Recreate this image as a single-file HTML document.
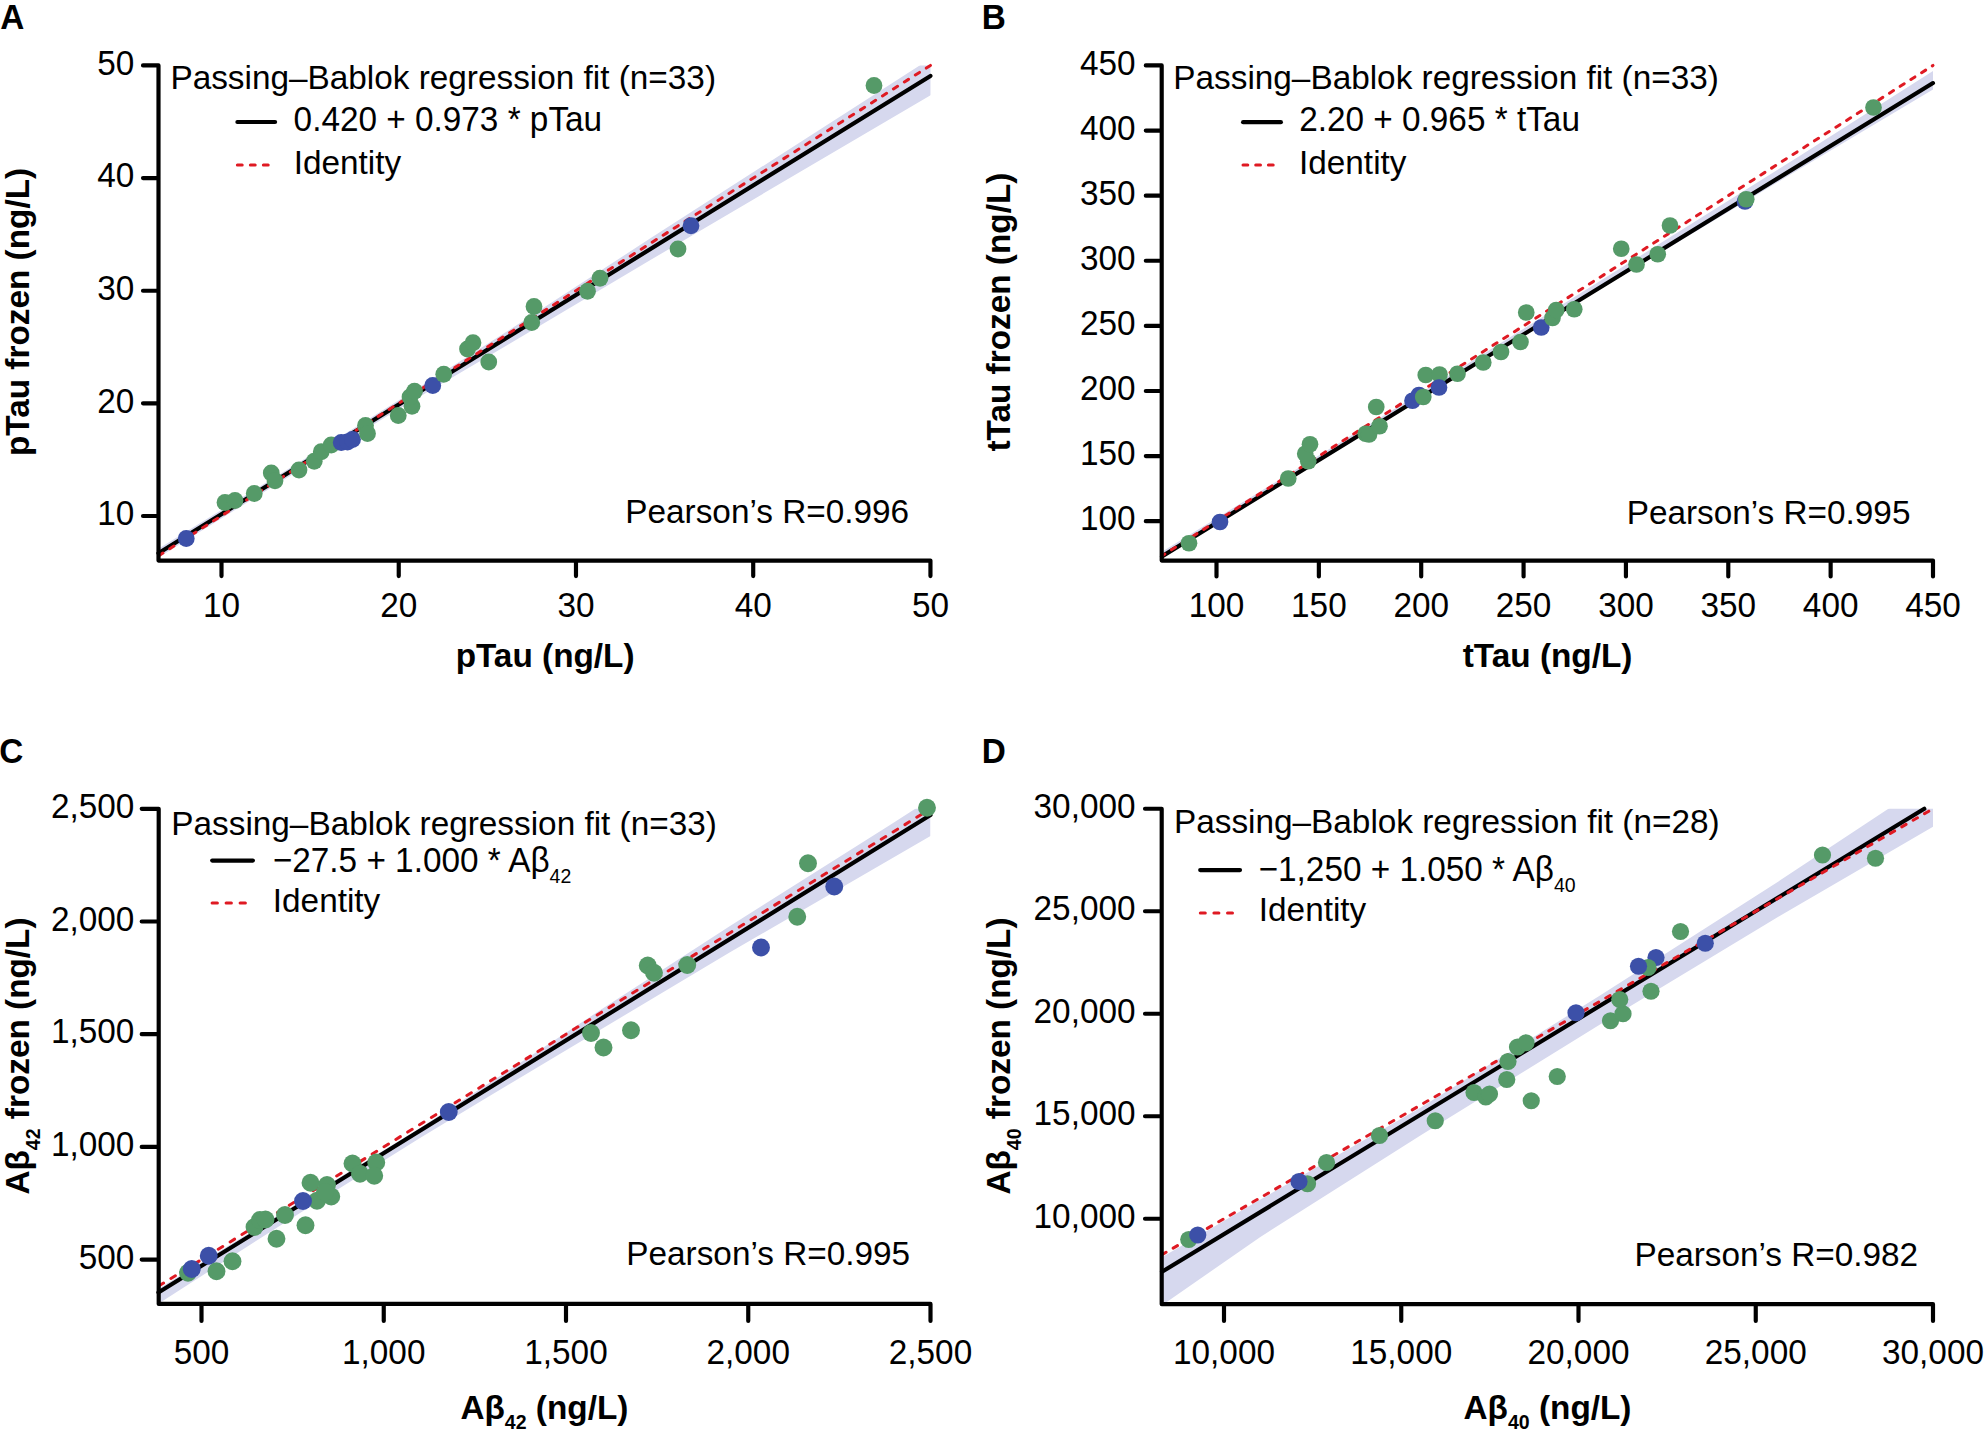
<!DOCTYPE html>
<html><head><meta charset="utf-8"><title>Passing–Bablok regression</title>
<style>html,body{margin:0;padding:0;background:#fff}svg{display:block}text{white-space:pre}</style></head>
<body>
<svg width="1984" height="1442" viewBox="0 0 1984 1442" font-family="'Liberation Sans', sans-serif" fill="#000">
<clipPath id="cA"><rect x="158.50" y="65.45" width="771.95" height="495.10"/></clipPath>
<g clip-path="url(#cA)">
<polygon fill="#d6d8ee" points="158.40,548.76 300.00,461.63 400.00,399.62 510.00,329.62 650.00,238.58 920.00,65.18 931.00,58.09 931.00,94.89 650.00,260.28 510.00,343.62 400.00,408.22 300.00,469.63 158.40,557.56"/>
</g>
<line x1="158.40" y1="553.16" x2="930.45" y2="75.93" stroke="#000" stroke-width="4.17" stroke-linecap="round"/>
<line x1="930.45" y1="65.45" x2="158.40" y2="555.93" stroke="#df1a23" stroke-width="3.0" stroke-linecap="round" stroke-dasharray="4.90 8.09" stroke-dashoffset="0.00"/>
<circle cx="186.25" cy="538.50" r="8.4" fill="#3c50a8"/>
<circle cx="225.00" cy="502.50" r="8.4" fill="#559a68"/>
<circle cx="235.00" cy="500.50" r="8.4" fill="#559a68"/>
<circle cx="254.25" cy="493.50" r="8.4" fill="#559a68"/>
<circle cx="271.25" cy="473.00" r="8.4" fill="#559a68"/>
<circle cx="275.00" cy="480.75" r="8.4" fill="#559a68"/>
<circle cx="299.00" cy="470.00" r="8.4" fill="#559a68"/>
<circle cx="314.25" cy="461.25" r="8.4" fill="#559a68"/>
<circle cx="321.25" cy="451.75" r="8.4" fill="#559a68"/>
<circle cx="331.25" cy="445.00" r="8.4" fill="#559a68"/>
<circle cx="341.25" cy="442.50" r="8.4" fill="#3c50a8"/>
<circle cx="347.50" cy="442.00" r="8.4" fill="#3c50a8"/>
<circle cx="352.50" cy="439.50" r="8.4" fill="#3c50a8"/>
<circle cx="365.50" cy="425.50" r="8.4" fill="#559a68"/>
<circle cx="367.50" cy="433.50" r="8.4" fill="#559a68"/>
<circle cx="398.25" cy="415.50" r="8.4" fill="#559a68"/>
<circle cx="412.00" cy="406.25" r="8.4" fill="#559a68"/>
<circle cx="410.00" cy="397.00" r="8.4" fill="#559a68"/>
<circle cx="414.50" cy="391.25" r="8.4" fill="#559a68"/>
<circle cx="432.75" cy="385.50" r="8.4" fill="#3c50a8"/>
<circle cx="443.75" cy="374.25" r="8.4" fill="#559a68"/>
<circle cx="488.75" cy="362.00" r="8.4" fill="#559a68"/>
<circle cx="467.50" cy="349.00" r="8.4" fill="#559a68"/>
<circle cx="473.00" cy="342.70" r="8.4" fill="#559a68"/>
<circle cx="531.75" cy="322.50" r="8.4" fill="#559a68"/>
<circle cx="534.00" cy="306.50" r="8.4" fill="#559a68"/>
<circle cx="587.50" cy="291.25" r="8.4" fill="#559a68"/>
<circle cx="600.00" cy="278.25" r="8.4" fill="#559a68"/>
<circle cx="678.00" cy="249.00" r="8.4" fill="#559a68"/>
<circle cx="691.00" cy="225.75" r="8.4" fill="#3c50a8"/>
<circle cx="874.00" cy="85.50" r="8.4" fill="#559a68"/>
<path d="M143.00 65.45H158.50V560.55H930.45V576.05M143.00 516.00H158.50M143.00 403.36H158.50M143.00 290.73H158.50M143.00 178.09H158.50M221.50 560.55V576.05M398.74 560.55V576.05M575.98 560.55V576.05M753.21 560.55V576.05" fill="none" stroke="#000" stroke-width="4.17" stroke-linecap="round" stroke-linejoin="round"/>
<text transform="translate(134.30,525.20) scale(1,1.04)" text-anchor="end" font-weight="normal" font-size="33.33">10</text>
<text transform="translate(134.30,412.56) scale(1,1.04)" text-anchor="end" font-weight="normal" font-size="33.33">20</text>
<text transform="translate(134.30,299.93) scale(1,1.04)" text-anchor="end" font-weight="normal" font-size="33.33">30</text>
<text transform="translate(134.30,187.29) scale(1,1.04)" text-anchor="end" font-weight="normal" font-size="33.33">40</text>
<text transform="translate(134.30,74.65) scale(1,1.04)" text-anchor="end" font-weight="normal" font-size="33.33">50</text>
<text transform="translate(221.50,616.80) scale(1,1.04)" text-anchor="middle" font-weight="normal" font-size="33.33">10</text>
<text transform="translate(398.74,616.80) scale(1,1.04)" text-anchor="middle" font-weight="normal" font-size="33.33">20</text>
<text transform="translate(575.98,616.80) scale(1,1.04)" text-anchor="middle" font-weight="normal" font-size="33.33">30</text>
<text transform="translate(753.21,616.80) scale(1,1.04)" text-anchor="middle" font-weight="normal" font-size="33.33">40</text>
<text transform="translate(930.45,616.80) scale(1,1.04)" text-anchor="middle" font-weight="normal" font-size="33.33">50</text>
<text transform="translate(170.40,88.50) scale(1,1.0)" text-anchor="start" font-weight="normal" font-size="33.33">Passing–Bablok regression fit (n=33)</text>
<line x1="237.40" y1="122.00" x2="275.10" y2="122.00" stroke="#000" stroke-width="4.17" stroke-linecap="round"/>
<text transform="translate(293.60,130.90) scale(1,1.04)" text-anchor="start" font-weight="normal" font-size="33.33">0.420 + 0.973 * pTau</text>
<line x1="237.35" y1="164.97" x2="268.70" y2="164.97" stroke="#df1a23" stroke-width="3.0" stroke-linecap="round" stroke-dasharray="4.85 8.15"/>
<text transform="translate(293.70,173.90) scale(1,1.0)" text-anchor="start" font-weight="normal" font-size="33.33">Identity</text>
<text transform="translate(625.30,523.00) scale(1,1.02)" text-anchor="start" font-weight="normal" font-size="33.33">Pearson’s R=0.996</text>
<text transform="translate(545.10,667.00) scale(1,1.0)" text-anchor="middle" font-weight="bold" font-size="33.33">pTau (ng/L)</text>
<text transform="translate(28.70,312.00) rotate(-90)" text-anchor="middle" font-weight="bold" font-size="33.33">pTau frozen (ng/L)</text>
<text transform="translate(0.30,28.60) scale(1,1.04)" text-anchor="start" font-weight="bold" font-size="33.33">A</text>
<clipPath id="cB"><rect x="1161.70" y="65.45" width="771.30" height="495.10"/></clipPath>
<g clip-path="url(#cB)">
<polygon fill="#d6d8ee" points="1162.00,551.65 1300.00,467.04 1450.00,374.67 1610.00,274.86 1800.00,155.63 1933.20,70.87 1933.20,89.47 1800.00,168.73 1600.00,288.99 1162.00,557.85"/>
</g>
<line x1="1162.00" y1="556.35" x2="1933.00" y2="83.09" stroke="#000" stroke-width="4.17" stroke-linecap="round"/>
<line x1="1933.00" y1="65.45" x2="1162.00" y2="555.87" stroke="#df1a23" stroke-width="3.0" stroke-linecap="round" stroke-dasharray="4.79 7.91" stroke-dashoffset="3.99"/>
<circle cx="1189.00" cy="543.25" r="8.35" fill="#559a68"/>
<circle cx="1220.00" cy="522.00" r="8.35" fill="#3c50a8"/>
<circle cx="1288.25" cy="478.50" r="8.35" fill="#559a68"/>
<circle cx="1308.25" cy="461.25" r="8.35" fill="#559a68"/>
<circle cx="1305.25" cy="453.75" r="8.35" fill="#559a68"/>
<circle cx="1310.00" cy="444.25" r="8.35" fill="#559a68"/>
<circle cx="1365.75" cy="433.75" r="8.35" fill="#559a68"/>
<circle cx="1369.00" cy="434.50" r="8.35" fill="#559a68"/>
<circle cx="1379.50" cy="426.25" r="8.35" fill="#559a68"/>
<circle cx="1376.25" cy="407.00" r="8.35" fill="#559a68"/>
<circle cx="1412.50" cy="400.75" r="8.35" fill="#3c50a8"/>
<circle cx="1419.00" cy="395.00" r="8.35" fill="#3c50a8"/>
<circle cx="1423.25" cy="397.00" r="8.35" fill="#559a68"/>
<circle cx="1425.75" cy="375.00" r="8.35" fill="#559a68"/>
<circle cx="1439.50" cy="374.50" r="8.35" fill="#559a68"/>
<circle cx="1439.00" cy="387.50" r="8.35" fill="#3c50a8"/>
<circle cx="1457.50" cy="373.75" r="8.35" fill="#559a68"/>
<circle cx="1483.25" cy="362.50" r="8.35" fill="#559a68"/>
<circle cx="1501.00" cy="352.00" r="8.35" fill="#559a68"/>
<circle cx="1520.50" cy="342.00" r="8.35" fill="#559a68"/>
<circle cx="1541.25" cy="327.50" r="8.35" fill="#3c50a8"/>
<circle cx="1552.50" cy="318.00" r="8.35" fill="#559a68"/>
<circle cx="1526.25" cy="312.50" r="8.35" fill="#559a68"/>
<circle cx="1556.25" cy="310.00" r="8.35" fill="#559a68"/>
<circle cx="1574.25" cy="309.25" r="8.35" fill="#559a68"/>
<circle cx="1636.50" cy="264.50" r="8.35" fill="#559a68"/>
<circle cx="1657.75" cy="254.25" r="8.35" fill="#559a68"/>
<circle cx="1621.25" cy="248.75" r="8.35" fill="#559a68"/>
<circle cx="1670.00" cy="225.50" r="8.35" fill="#559a68"/>
<circle cx="1745.00" cy="201.50" r="8.35" fill="#3c50a8"/>
<circle cx="1746.25" cy="199.25" r="8.35" fill="#559a68"/>
<circle cx="1873.50" cy="107.50" r="8.35" fill="#559a68"/>
<path d="M1145.80 65.45H1161.70V560.55H1933.00V576.45M1145.80 521.20H1161.70M1145.80 456.09H1161.70M1145.80 390.99H1161.70M1145.80 325.88H1161.70M1145.80 260.77H1161.70M1145.80 195.66H1161.70M1145.80 130.56H1161.70M1216.50 560.55V576.45M1318.86 560.55V576.45M1421.21 560.55V576.45M1523.57 560.55V576.45M1625.93 560.55V576.45M1728.29 560.55V576.45M1830.64 560.55V576.45" fill="none" stroke="#000" stroke-width="4.17" stroke-linecap="round" stroke-linejoin="round"/>
<text transform="translate(1135.50,530.40) scale(1,1.04)" text-anchor="end" font-weight="normal" font-size="33.33">100</text>
<text transform="translate(1135.50,465.29) scale(1,1.04)" text-anchor="end" font-weight="normal" font-size="33.33">150</text>
<text transform="translate(1135.50,400.19) scale(1,1.04)" text-anchor="end" font-weight="normal" font-size="33.33">200</text>
<text transform="translate(1135.50,335.08) scale(1,1.04)" text-anchor="end" font-weight="normal" font-size="33.33">250</text>
<text transform="translate(1135.50,269.97) scale(1,1.04)" text-anchor="end" font-weight="normal" font-size="33.33">300</text>
<text transform="translate(1135.50,204.86) scale(1,1.04)" text-anchor="end" font-weight="normal" font-size="33.33">350</text>
<text transform="translate(1135.50,139.76) scale(1,1.04)" text-anchor="end" font-weight="normal" font-size="33.33">400</text>
<text transform="translate(1135.50,74.65) scale(1,1.04)" text-anchor="end" font-weight="normal" font-size="33.33">450</text>
<text transform="translate(1216.50,616.80) scale(1,1.04)" text-anchor="middle" font-weight="normal" font-size="33.33">100</text>
<text transform="translate(1318.86,616.80) scale(1,1.04)" text-anchor="middle" font-weight="normal" font-size="33.33">150</text>
<text transform="translate(1421.21,616.80) scale(1,1.04)" text-anchor="middle" font-weight="normal" font-size="33.33">200</text>
<text transform="translate(1523.57,616.80) scale(1,1.04)" text-anchor="middle" font-weight="normal" font-size="33.33">250</text>
<text transform="translate(1625.93,616.80) scale(1,1.04)" text-anchor="middle" font-weight="normal" font-size="33.33">300</text>
<text transform="translate(1728.29,616.80) scale(1,1.04)" text-anchor="middle" font-weight="normal" font-size="33.33">350</text>
<text transform="translate(1830.64,616.80) scale(1,1.04)" text-anchor="middle" font-weight="normal" font-size="33.33">400</text>
<text transform="translate(1933.00,616.80) scale(1,1.04)" text-anchor="middle" font-weight="normal" font-size="33.33">450</text>
<text transform="translate(1173.30,88.55) scale(1,1.0)" text-anchor="start" font-weight="normal" font-size="33.33">Passing–Bablok regression fit (n=33)</text>
<line x1="1243.10" y1="122.15" x2="1280.90" y2="122.15" stroke="#000" stroke-width="4.17" stroke-linecap="round"/>
<text transform="translate(1299.20,130.80) scale(1,1.04)" text-anchor="start" font-weight="normal" font-size="33.33">2.20 + 0.965 * tTau</text>
<line x1="1243.00" y1="165.00" x2="1273.60" y2="165.00" stroke="#df1a23" stroke-width="3.0" stroke-linecap="round" stroke-dasharray="4.8 7.9"/>
<text transform="translate(1299.00,173.90) scale(1,1.0)" text-anchor="start" font-weight="normal" font-size="33.33">Identity</text>
<text transform="translate(1626.70,523.75) scale(1,1.02)" text-anchor="start" font-weight="normal" font-size="33.33">Pearson’s R=0.995</text>
<text transform="translate(1547.60,667.10) scale(1,1.0)" text-anchor="middle" font-weight="bold" font-size="33.33">tTau (ng/L)</text>
<text transform="translate(1010.40,312.10) rotate(-90)" text-anchor="middle" font-weight="bold" font-size="33.33">tTau frozen (ng/L)</text>
<text transform="translate(981.70,28.60) scale(1,1.04)" text-anchor="start" font-weight="bold" font-size="33.33">B</text>
<clipPath id="cC"><rect x="158.70" y="808.80" width="771.80" height="495.10"/></clipPath>
<g clip-path="url(#cC)">
<polygon fill="#d6d8ee" points="158.40,1288.85 420.00,1128.08 480.00,1089.08 600.00,1010.37 730.00,925.98 890.00,824.94 930.50,799.00 930.50,836.00 730.00,952.18 480.00,1101.78 420.00,1137.88 300.00,1212.89 158.40,1303.65"/>
</g>
<line x1="158.40" y1="1292.45" x2="930.50" y2="815.00" stroke="#000" stroke-width="4.17" stroke-linecap="round"/>
<line x1="930.50" y1="808.80" x2="158.40" y2="1286.25" stroke="#df1a23" stroke-width="3.0" stroke-linecap="round" stroke-dasharray="5.25 8.67" stroke-dashoffset="3.05"/>
<circle cx="188.00" cy="1272.75" r="8.95" fill="#559a68"/>
<circle cx="191.75" cy="1269.00" r="8.95" fill="#3c50a8"/>
<circle cx="208.75" cy="1255.75" r="8.95" fill="#3c50a8"/>
<circle cx="216.50" cy="1271.25" r="8.95" fill="#559a68"/>
<circle cx="232.50" cy="1261.25" r="8.95" fill="#559a68"/>
<circle cx="254.50" cy="1227.00" r="8.95" fill="#559a68"/>
<circle cx="260.00" cy="1220.00" r="8.95" fill="#559a68"/>
<circle cx="265.50" cy="1219.50" r="8.95" fill="#559a68"/>
<circle cx="285.00" cy="1215.00" r="8.95" fill="#559a68"/>
<circle cx="276.50" cy="1238.75" r="8.95" fill="#559a68"/>
<circle cx="305.50" cy="1225.25" r="8.95" fill="#559a68"/>
<circle cx="310.50" cy="1182.75" r="8.95" fill="#559a68"/>
<circle cx="317.00" cy="1200.75" r="8.95" fill="#559a68"/>
<circle cx="303.00" cy="1201.00" r="8.95" fill="#3c50a8"/>
<circle cx="327.00" cy="1185.00" r="8.95" fill="#559a68"/>
<circle cx="331.25" cy="1196.50" r="8.95" fill="#559a68"/>
<circle cx="325.00" cy="1192.00" r="8.95" fill="#559a68"/>
<circle cx="352.50" cy="1163.50" r="8.95" fill="#559a68"/>
<circle cx="360.00" cy="1173.75" r="8.95" fill="#559a68"/>
<circle cx="376.25" cy="1162.50" r="8.95" fill="#559a68"/>
<circle cx="374.25" cy="1175.75" r="8.95" fill="#559a68"/>
<circle cx="448.75" cy="1112.00" r="8.95" fill="#3c50a8"/>
<circle cx="591.00" cy="1033.00" r="8.95" fill="#559a68"/>
<circle cx="631.00" cy="1030.25" r="8.95" fill="#559a68"/>
<circle cx="603.50" cy="1047.50" r="8.95" fill="#559a68"/>
<circle cx="647.75" cy="965.50" r="8.95" fill="#559a68"/>
<circle cx="654.00" cy="972.75" r="8.95" fill="#559a68"/>
<circle cx="687.25" cy="965.00" r="8.95" fill="#559a68"/>
<circle cx="761.00" cy="947.50" r="8.95" fill="#3c50a8"/>
<circle cx="797.25" cy="916.75" r="8.95" fill="#559a68"/>
<circle cx="834.25" cy="886.50" r="8.95" fill="#3c50a8"/>
<circle cx="808.00" cy="863.25" r="8.95" fill="#559a68"/>
<circle cx="927.00" cy="807.75" r="8.95" fill="#559a68"/>
<path d="M141.70 808.80H158.70V1303.90H930.50V1320.90M141.70 1259.60H158.70M141.70 1146.90H158.70M141.70 1034.20H158.70M141.70 921.50H158.70M201.50 1303.90V1320.90M383.75 1303.90V1320.90M566.00 1303.90V1320.90M748.25 1303.90V1320.90" fill="none" stroke="#000" stroke-width="4.17" stroke-linecap="round" stroke-linejoin="round"/>
<text transform="translate(134.30,1268.80) scale(1,1.04)" text-anchor="end" font-weight="normal" font-size="33.33">500</text>
<text transform="translate(134.30,1156.10) scale(1,1.04)" text-anchor="end" font-weight="normal" font-size="33.33">1,000</text>
<text transform="translate(134.30,1043.40) scale(1,1.04)" text-anchor="end" font-weight="normal" font-size="33.33">1,500</text>
<text transform="translate(134.30,930.70) scale(1,1.04)" text-anchor="end" font-weight="normal" font-size="33.33">2,000</text>
<text transform="translate(134.30,818.00) scale(1,1.04)" text-anchor="end" font-weight="normal" font-size="33.33">2,500</text>
<text transform="translate(201.50,1364.00) scale(1,1.04)" text-anchor="middle" font-weight="normal" font-size="33.33">500</text>
<text transform="translate(383.75,1364.00) scale(1,1.04)" text-anchor="middle" font-weight="normal" font-size="33.33">1,000</text>
<text transform="translate(566.00,1364.00) scale(1,1.04)" text-anchor="middle" font-weight="normal" font-size="33.33">1,500</text>
<text transform="translate(748.25,1364.00) scale(1,1.04)" text-anchor="middle" font-weight="normal" font-size="33.33">2,000</text>
<text transform="translate(930.50,1364.00) scale(1,1.04)" text-anchor="middle" font-weight="normal" font-size="33.33">2,500</text>
<text transform="translate(171.30,834.60) scale(1,1.0)" text-anchor="start" font-weight="normal" font-size="33.33">Passing–Bablok regression fit (n=33)</text>
<line x1="212.20" y1="860.60" x2="252.90" y2="860.60" stroke="#000" stroke-width="4.17" stroke-linecap="round"/>
<text transform="translate(272.80,871.70) scale(1,1.04)" text-anchor="start" font-weight="normal" font-size="33.33">−27.5 + 1.000 * Aβ<tspan dy="10.8" font-size="19.5">42</tspan></text>
<line x1="212.10" y1="903.00" x2="245.90" y2="903.00" stroke="#df1a23" stroke-width="3.0" stroke-linecap="round" stroke-dasharray="5.3 8.7"/>
<text transform="translate(272.80,911.80) scale(1,1.0)" text-anchor="start" font-weight="normal" font-size="33.33">Identity</text>
<text transform="translate(626.30,1265.00) scale(1,1.02)" text-anchor="start" font-weight="normal" font-size="33.33">Pearson’s R=0.995</text>
<text transform="translate(544.40,1418.60) scale(1,1.0)" text-anchor="middle" font-weight="bold" font-size="33.33">Aβ<tspan dy="10.8" font-size="19.5">42</tspan><tspan dy="-10.8"> (ng/L)</tspan></text>
<text transform="translate(28.70,1056.00) rotate(-90)" text-anchor="middle" font-weight="bold" font-size="33.33">Aβ<tspan dy="10.8" font-size="19.5">42</tspan><tspan dy="-10.8"> frozen (ng/L)</tspan></text>
<text transform="translate(-0.70,763.30) scale(1,1.04)" text-anchor="start" font-weight="bold" font-size="33.33">C</text>
<clipPath id="cD"><rect x="1161.70" y="808.75" width="771.30" height="495.45"/></clipPath>
<g clip-path="url(#cD)">
<polygon fill="#d6d8ee" points="1162.00,1257.20 1260.00,1199.80 1420.40,1107.70 1600.00,995.50 1780.50,880.07 1888.40,808.84 1933.00,779.40 1933.00,826.76 1780.50,915.40 1600.00,1024.50 1420.40,1135.60 1260.00,1237.20 1162.00,1305.30"/>
</g>
<line x1="1162.00" y1="1271.77" x2="1924.30" y2="808.75" stroke="#000" stroke-width="4.17" stroke-linecap="round"/>
<line x1="1933.00" y1="808.75" x2="1162.00" y2="1254.60" stroke="#df1a23" stroke-width="3.0" stroke-linecap="round" stroke-dasharray="4.96 8.19" stroke-dashoffset="8.30"/>
<circle cx="1188.75" cy="1239.50" r="8.6" fill="#559a68"/>
<circle cx="1197.75" cy="1235.00" r="8.6" fill="#3c50a8"/>
<circle cx="1307.50" cy="1183.75" r="8.6" fill="#559a68"/>
<circle cx="1299.00" cy="1181.50" r="8.6" fill="#3c50a8"/>
<circle cx="1326.50" cy="1162.50" r="8.6" fill="#559a68"/>
<circle cx="1379.50" cy="1135.50" r="8.6" fill="#559a68"/>
<circle cx="1435.25" cy="1120.75" r="8.6" fill="#559a68"/>
<circle cx="1474.00" cy="1092.50" r="8.6" fill="#559a68"/>
<circle cx="1485.75" cy="1097.00" r="8.6" fill="#559a68"/>
<circle cx="1489.50" cy="1094.00" r="8.6" fill="#559a68"/>
<circle cx="1531.25" cy="1100.75" r="8.6" fill="#559a68"/>
<circle cx="1506.75" cy="1079.50" r="8.6" fill="#559a68"/>
<circle cx="1557.25" cy="1076.50" r="8.6" fill="#559a68"/>
<circle cx="1508.00" cy="1061.50" r="8.6" fill="#559a68"/>
<circle cx="1517.50" cy="1047.00" r="8.6" fill="#559a68"/>
<circle cx="1526.00" cy="1042.75" r="8.6" fill="#559a68"/>
<circle cx="1576.00" cy="1012.75" r="8.6" fill="#3c50a8"/>
<circle cx="1610.50" cy="1020.75" r="8.6" fill="#559a68"/>
<circle cx="1623.00" cy="1013.75" r="8.6" fill="#559a68"/>
<circle cx="1619.75" cy="999.50" r="8.6" fill="#559a68"/>
<circle cx="1651.00" cy="991.25" r="8.6" fill="#559a68"/>
<circle cx="1656.00" cy="957.50" r="8.6" fill="#3c50a8"/>
<circle cx="1648.00" cy="967.50" r="8.6" fill="#559a68"/>
<circle cx="1638.50" cy="966.25" r="8.6" fill="#3c50a8"/>
<circle cx="1705.25" cy="943.25" r="8.6" fill="#3c50a8"/>
<circle cx="1680.50" cy="931.50" r="8.6" fill="#559a68"/>
<circle cx="1822.50" cy="855.00" r="8.6" fill="#559a68"/>
<circle cx="1875.50" cy="858.25" r="8.6" fill="#559a68"/>
<path d="M1145.00 808.75H1161.70V1304.20H1933.00V1320.90M1145.00 1218.75H1161.70M1145.00 1116.25H1161.70M1145.00 1013.75H1161.70M1145.00 911.25H1161.70M1224.00 1304.20V1320.90M1401.25 1304.20V1320.90M1578.50 1304.20V1320.90M1755.75 1304.20V1320.90" fill="none" stroke="#000" stroke-width="4.17" stroke-linecap="round" stroke-linejoin="round"/>
<text transform="translate(1135.50,1227.95) scale(1,1.04)" text-anchor="end" font-weight="normal" font-size="33.33">10,000</text>
<text transform="translate(1135.50,1125.45) scale(1,1.04)" text-anchor="end" font-weight="normal" font-size="33.33">15,000</text>
<text transform="translate(1135.50,1022.95) scale(1,1.04)" text-anchor="end" font-weight="normal" font-size="33.33">20,000</text>
<text transform="translate(1135.50,920.45) scale(1,1.04)" text-anchor="end" font-weight="normal" font-size="33.33">25,000</text>
<text transform="translate(1135.50,817.95) scale(1,1.04)" text-anchor="end" font-weight="normal" font-size="33.33">30,000</text>
<text transform="translate(1224.00,1364.00) scale(1,1.04)" text-anchor="middle" font-weight="normal" font-size="33.33">10,000</text>
<text transform="translate(1401.25,1364.00) scale(1,1.04)" text-anchor="middle" font-weight="normal" font-size="33.33">15,000</text>
<text transform="translate(1578.50,1364.00) scale(1,1.04)" text-anchor="middle" font-weight="normal" font-size="33.33">20,000</text>
<text transform="translate(1755.75,1364.00) scale(1,1.04)" text-anchor="middle" font-weight="normal" font-size="33.33">25,000</text>
<text transform="translate(1933.00,1364.00) scale(1,1.04)" text-anchor="middle" font-weight="normal" font-size="33.33">30,000</text>
<text transform="translate(1174.00,832.80) scale(1,1.0)" text-anchor="start" font-weight="normal" font-size="33.33">Passing–Bablok regression fit (n=28)</text>
<line x1="1200.20" y1="870.05" x2="1240.00" y2="870.05" stroke="#000" stroke-width="4.17" stroke-linecap="round"/>
<text transform="translate(1258.60,880.60) scale(1,1.04)" text-anchor="start" font-weight="normal" font-size="33.33">−1,250 + 1.050 * Aβ<tspan dy="10.8" font-size="19.5">40</tspan></text>
<line x1="1200.30" y1="913.00" x2="1233.00" y2="913.00" stroke="#df1a23" stroke-width="3.0" stroke-linecap="round" stroke-dasharray="5.0 8.6"/>
<text transform="translate(1258.80,920.90) scale(1,1.0)" text-anchor="start" font-weight="normal" font-size="33.33">Identity</text>
<text transform="translate(1634.40,1265.75) scale(1,1.02)" text-anchor="start" font-weight="normal" font-size="33.33">Pearson’s R=0.982</text>
<text transform="translate(1547.50,1418.60) scale(1,1.0)" text-anchor="middle" font-weight="bold" font-size="33.33">Aβ<tspan dy="10.8" font-size="19.5">40</tspan><tspan dy="-10.8"> (ng/L)</tspan></text>
<text transform="translate(1010.40,1056.00) rotate(-90)" text-anchor="middle" font-weight="bold" font-size="33.33">Aβ<tspan dy="10.8" font-size="19.5">40</tspan><tspan dy="-10.8"> frozen (ng/L)</tspan></text>
<text transform="translate(981.70,763.30) scale(1,1.04)" text-anchor="start" font-weight="bold" font-size="33.33">D</text>
</svg>
</body></html>
